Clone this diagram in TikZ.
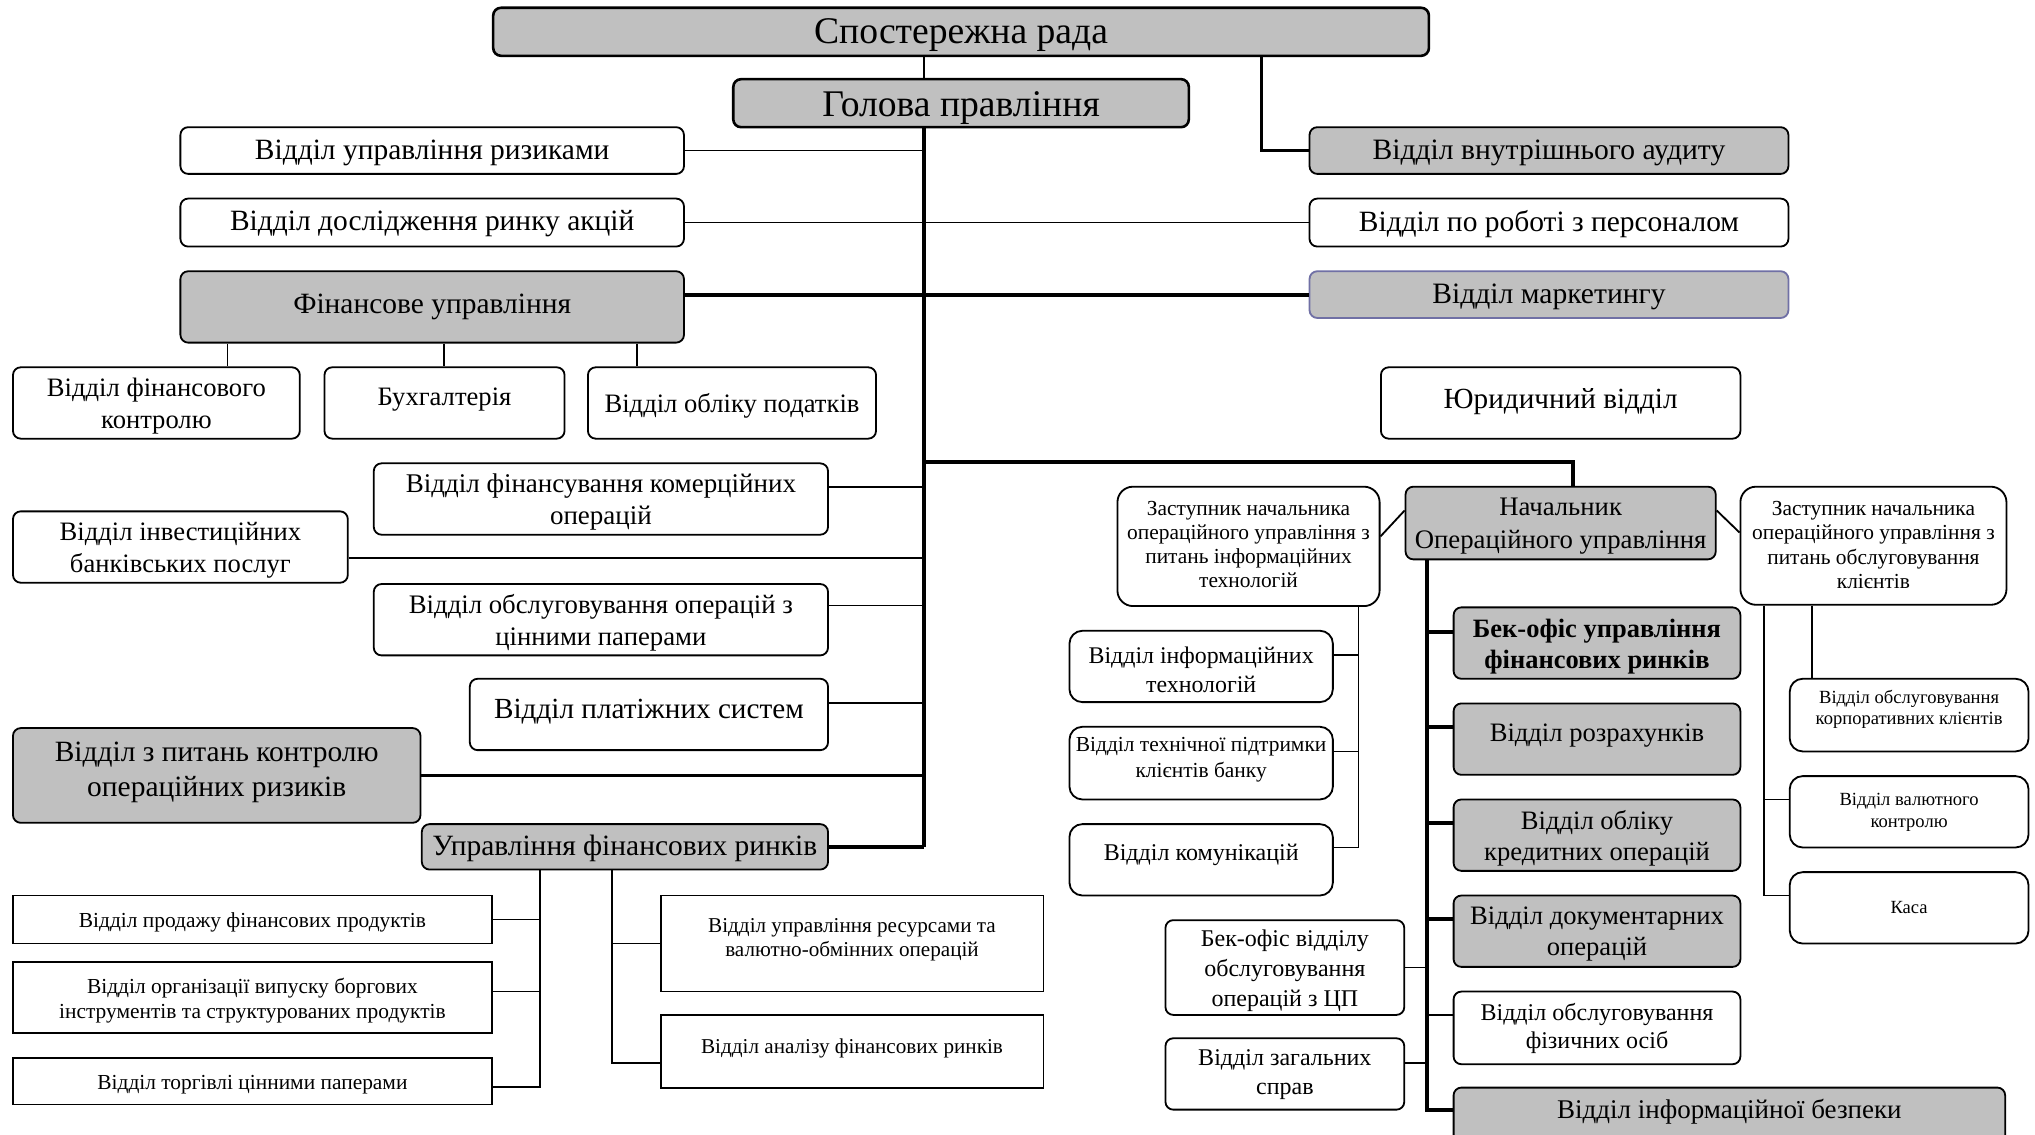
\documentclass[tikz,border=0pt]{standalone}
\usepackage{fontspec}
\setmainfont{Liberation Serif}
\usetikzlibrary{calc}
\definecolor{boxgray}{RGB}{192,192,192}
\definecolor{mkborder}{RGB}{112,112,165}
% #1 box options, #2 text options, #3 name, #4,#5 centre, #6 width, #7 height, #8 text lift, #9 text
\newcommand\orgbox[9]{%
  \node[#1, minimum width=#6pt, minimum height=#7pt] (#3) at (#4,#5) {};
  \node[txt, #2] (#3-t) at ([yshift=#8pt-2.5pt]#3.center) {#9};
}
\begin{document}
\begin{tikzpicture}[x=1pt,y=-1pt,
  box/.style={draw, line width=1.4pt, rounded corners=6pt, inner sep=0pt},
  rbox/.style={box, rounded corners=12pt},
  sbox/.style={draw, line width=1.4pt, inner sep=0pt},
  grey/.style={fill=boxgray},
  txt/.style={inner sep=0pt, align=center},
  fs/.style 2 args={font=\fontsize{#1}{#2}\selectfont},
  fsb/.style 2 args={font=\fontsize{#1}{#2}\selectfont\bfseries},
  conn/.style={line width=1.4pt},
  trunk/.style={line width=3pt},
]
\path[use as bounding box] (0,0) rectangle (1568,874);
\clip (0,0) rectangle (1568,874);
\fill[white] (0,0) rectangle (1568,874);

% ---- top management
\orgbox{box,grey,line width=2pt}{fs={29}{32}}{sr}{740.5}{24.5}{721}{37}{0}{Спостережна рада}
\orgbox{box,grey,line width=2pt}{fs={29}{32}}{gp}{740.5}{79.5}{351}{37}{-1}{Голова правління}

% ---- left column
\orgbox{box}{fs={22.7}{26}}{ur}{333}{116}{388}{36}{1}{Відділ управління ризиками}
\orgbox{box}{fs={22.7}{26}}{dr}{333}{171.5}{388}{37}{1.5}{Відділ дослідження ринку акцій}
\orgbox{box,grey}{fs={22.7}{26}}{fu}{333}{236.5}{388}{55}{2.5}{Фінансове управління}
\orgbox{box}{fs={20.5}{25}}{fk}{120.5}{310.5}{221}{55}{0}{Відділ фінансового\\контролю}
\orgbox{box}{fs={20.5}{25}}{bh}{342.5}{310.5}{185}{55}{5.5}{Бухгалтерія}
\orgbox{box}{fs={20.5}{25}}{op}{564}{310.5}{222}{55}{0}{Відділ обліку податків}

% ---- right column
\orgbox{box,grey}{fs={22.8}{26}}{va}{1193.5}{116}{369}{36}{1}{Відділ внутрішнього аудиту}
\orgbox{box}{fs={22.7}{26}}{rp}{1193.5}{171.5}{369}{37}{1.5}{Відділ по роботі з персоналом}
\orgbox{box,grey,draw=mkborder}{fs={22.8}{26}}{mk}{1193.5}{227}{369}{36}{1}{Відділ маркетингу}
\orgbox{box}{fs={22.5}{26}}{yu}{1202.5}{310.5}{277}{55}{3.5}{Юридичний відділ}

% ---- departments along the main line
\orgbox{box}{fs={20.8}{24.5}}{fko}{463}{384.5}{350}{55}{0}{Відділ фінансування комерційних\\операцій}
\orgbox{box}{fs={20.5}{24.5}}{ib}{139}{421.5}{258}{55}{0}{Відділ інвестиційних\\банківських послуг}
\orgbox{box}{fs={20.6}{24.5}}{ocp}{463}{477.5}{350}{55}{0}{Відділ обслуговування операцій з\\цінними паперами}
\orgbox{box}{fs={22.5}{26}}{ps}{500}{550.5}{276}{55}{4.5}{Відділ платіжних систем}
\orgbox{box,grey}{fs={22.7}{27}}{kor}{167}{597.5}{314}{73}{5}{Відділ з питань контролю\\операційних ризиків}
\orgbox{box,grey}{fs={22.7}{26}}{ufr}{481.5}{652.5}{313}{35}{1.5}{Управління фінансових ринків}

% ---- financial markets units
\orgbox{sbox}{fs={16.5}{20}}{pf}{194.5}{708.5}{369}{37}{0}{Відділ продажу фінансових продуктів}
\orgbox{sbox}{fs={16.5}{20}}{ov}{194.5}{768.5}{369}{55}{0}{Відділ організації випуску боргових\\інструментів та структурованих продуктів}
\orgbox{sbox}{fs={16.5}{20}}{tc}{194.5}{833}{369}{36}{0}{Відділ торгівлі цінними паперами}
\orgbox{sbox}{fs={16.3}{19}}{rv}{656.5}{727}{295}{74}{5.5}{Відділ управління ресурсами та\\валютно-обмінних операцій}
\orgbox{sbox}{fs={16.3}{19}}{af}{656.5}{810}{295}{56}{5}{Відділ аналізу фінансових ринків}

% ---- operations management
\orgbox{rbox}{fs={16.5}{18.7}}{zit}{962}{421}{202}{92}{4}{Заступник начальника\\операційного управління з\\питань інформаційних\\технологій}
\orgbox{box,grey}{fs={20.6}{25}}{nou}{1202.5}{403}{239}{56}{0}{Начальник\\Операційного управління}
\orgbox{rbox}{fs={16.5}{18.7}}{zok}{1443.5}{420.5}{205}{91}{3}{Заступник начальника\\операційного управління з\\питань обслуговування\\клієнтів}
\orgbox{box,rounded corners=10pt}{fs={18.4}{22}}{it}{925.5}{513.5}{203}{55}{0}{Відділ інформаційних\\технологій}
\orgbox{box,rounded corners=10pt}{fs={16.5}{20}}{tp}{925.5}{588}{203}{56}{5}{Відділ технічної підтримки\\клієнтів банку}
\orgbox{box,rounded corners=10pt}{fs={18.5}{22}}{km}{925.5}{662.5}{203}{55}{6.5}{Відділ комунікацій}
\orgbox{box,grey}{fsb={20.4}{24}}{bo}{1230.5}{495.5}{221}{55}{0}{Бек-офіс управління\\фінансових ринків}
\orgbox{box,grey}{fs={20.5}{24}}{rz}{1230.5}{569.5}{221}{55}{5.5}{Відділ розрахунків}
\orgbox{box,grey}{fs={20.5}{24}}{ok}{1230.5}{643.5}{221}{55}{0}{Відділ обліку\\кредитних операцій}
\orgbox{box,grey}{fs={20.5}{24}}{dk}{1230.5}{717.5}{221}{55}{0}{Відділ документарних\\операцій}
\orgbox{box}{fs={18.5}{22}}{fo}{1230.5}{792}{221}{56}{2}{Відділ обслуговування\\фізичних осіб}
\orgbox{box,grey}{fs={20.8}{25}}{bz}{1332.5}{864}{425}{52}{10}{Відділ інформаційної безпеки}
\orgbox{box}{fs={18.5}{23}}{bcp}{990}{745.5}{184}{73}{0}{Бек-офіс відділу\\обслуговування\\операцій з ЦП}
\orgbox{box}{fs={18.5}{23}}{zs}{990}{827.5}{184}{55}{2}{Відділ загальних\\справ}
\orgbox{box,rounded corners=10pt}{fs={14.3}{16.5}}{kk}{1471}{551}{184}{56}{7}{Відділ обслуговування\\корпоративних клієнтів}
\orgbox{box,rounded corners=10pt}{fs={14.3}{17}}{vk}{1471}{625.5}{184}{55}{2}{Відділ валютного\\контролю}
\orgbox{box,rounded corners=10pt}{fs={14.3}{17}}{ks}{1471}{699.5}{184}{55}{2.5}{Каса}

% ---- main line
\coordinate (st) at (712,98);
\coordinate (br) at (712,356);
\draw[conn,line width=1.8pt] (sr.south -| st) -- (gp.north -| st);
\draw[trunk] (st) -- (ufr.east -| st);
\draw[trunk,line width=2.5pt] ([xshift=231.5pt]sr.south) |- (va.west);

\draw[conn] (ur.east) -- (ur.east -| st);
\draw[conn] (dr.east) -- (rp.west);
\draw[trunk] (mk.west) -- (mk.west -| fu.east);
\foreach \f/\c in {0.095/fk, 0.523/bh, 0.905/op}
  \draw[conn] ($(fu.south west)!\f!(fu.south east)$) coordinate (tmp) -- (tmp |- \c.north);

\draw[trunk] (br) -| ($(nou.north west)!0.54!(nou.north east)$);
\draw[conn] ($(fko.east)+(0,-9)$) -- ($(fko.east -| st)+(0,-9)$);
\draw[conn] ($(ib.east)+(0,8.5)$) -- ($(ib.east -| st)+(0,8.5)$);
\draw[conn] ($(ocp.east)+(0,-11)$) -- ($(ocp.east -| st)+(0,-11)$);
\draw[conn] ($(ps.east)+(0,-9)$) -- ($(ps.east -| st)+(0,-9)$);
\draw[trunk] (kor.east) -- (kor.east -| st);
\draw[trunk] (ufr.east) -- (ufr.east -| st);

% ---- financial markets branches
\coordinate (ul) at ($(ufr.south west)+(91.5,0)$);
\coordinate (ur2) at ($(ufr.south west)+(147,0)$);
\draw[conn] (ul) |- ($(tc.east)+(0,4.5)$);
\draw[conn] (pf.east) -- (pf.east -| ul);
\draw[conn] ($(ov.east)+(0,-4.5)$) -- ($(ov.east -| ul)+(0,-4.5)$);
\draw[conn] (ur2) |- ($(af.west)+(0,9)$);
\draw[conn] (rv.west) -- (rv.west -| ur2);

% ---- operations branches
\coordinate (nv) at ($(nou.south west)+(17,0)$);
\draw[trunk] (nv) |- ($(bz.north west)+(0,18)$);
\draw[trunk] ($(bo.west)+(0,-8.5)$) -- ($(bo.west -| nv)+(0,-8.5)$);
\draw[trunk] ($(rz.west)+(0,-9.5)$) -- ($(rz.west -| nv)+(0,-9.5)$);
\draw[trunk] ($(ok.west)+(0,-9.5)$) -- ($(ok.west -| nv)+(0,-9.5)$);
\draw[trunk] ($(dk.west)+(0,-9.5)$) -- ($(dk.west -| nv)+(0,-9.5)$);
\draw[conn] ($(fo.west)+(0,-10)$) -- ($(fo.west -| nv)+(0,-10)$);
\draw[conn] (bcp.east) -- (bcp.east -| nv);
\draw[conn] ($(zs.east)+(0,-8.5)$) -- ($(zs.east -| nv)+(0,-8.5)$);

\draw[conn] ($(nou.north west)+(0,19)$) -- ($(zit.north east)+(0,39)$);
\draw[conn] ($(nou.north east)+(0,19)$) -- ($(zok.north west)+(0,36)$);

\coordinate (zv) at ($(zit.south east)+(-17,0)$);
\draw[conn] (zv) |- ($(km.east)+(0,-9.5)$);
\draw[conn] ($(it.east)+(0,-8.5)$) -- ($(it.east -| zv)+(0,-8.5)$);
\draw[conn] ($(tp.east)+(0,-9)$) -- ($(tp.east -| zv)+(0,-9)$);

\coordinate (zk1) at ($(zok.south west)+(56,0)$);
\coordinate (zk2) at ($(zok.south west)+(19,0)$);
\draw[conn] (zk1) -- (zk1 |- kk.north);
\draw[conn] (zk2) |- ($(ks.west)+(0,-9.5)$);
\draw[conn] ($(vk.west)+(0,-9.5)$) -- ($(vk.west -| zk2)+(0,-9.5)$);
\end{tikzpicture}
\end{document}
